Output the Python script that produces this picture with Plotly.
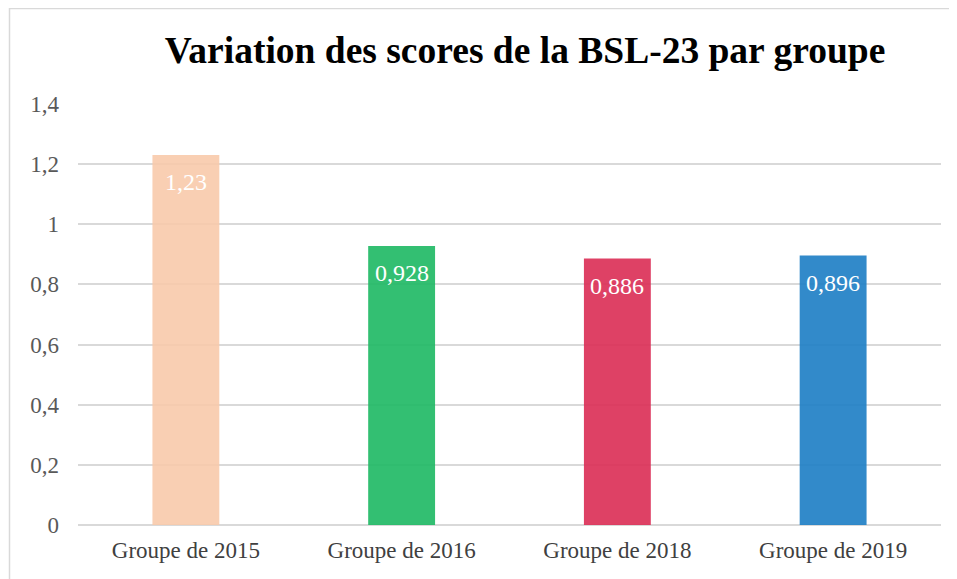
import plotly.graph_objects as go

categories = ["Groupe de 2015", "Groupe de 2016", "Groupe de 2018", "Groupe de 2019"]
values = [1.23, 0.928, 0.886, 0.896]
value_labels = ["1,23", "0,928", "0,886", "0,896"]
colors = ["rgba(248,200,168,0.88)", "rgba(34,186,102,0.92)", "rgba(218,44,84,0.9)", "rgba(33,128,198,0.92)"]

# page body adds an 8px offset; figure is sized to fill the rest of the window
OFF = 8
W, H = 957 - OFF, 579 - OFF
ml, mr, mt, mb = 70, 16, 96, 54
SERIF = "Liberation Serif, Times New Roman, serif"

fig = go.Figure()
fig.add_trace(go.Bar(
    x=categories, y=values, marker=dict(color=colors, line=dict(width=0)),
    width=0.31, hoverinfo="skip",
))

for c, v, t in zip(categories, values, value_labels):
    fig.add_annotation(x=c, y=v, text=t, showarrow=False, yanchor="top", yshift=-12,
                       font=dict(family=SERIF, size=24, color="white"))

plot_w = W - ml - mr
plot_h = H - mt - mb
fig.add_shape(type="rect", xref="paper", yref="paper",
              x0=(1.5 - ml) / plot_w, x1=(W + 20 - ml) / plot_w,
              y0=-(mb + 20) / plot_h, y1=(H - 0.5 - mb) / plot_h,
              line=dict(color="#D9D9D9", width=1.5), fillcolor="rgba(0,0,0,0)", layer="below")

fig.update_layout(
    width=W, height=H,
    margin=dict(l=ml, r=mr, t=mt, b=mb),
    paper_bgcolor="white", plot_bgcolor="white",
    separators=", ",
    showlegend=False,
    title=dict(text="<b>Variation des scores de la BSL-23 par groupe</b>",
               x=517 / W, xanchor="center", xref="container",
               y=1 - 42 / H, yanchor="middle", yref="container",
               font=dict(family=SERIF, size=37.5, color="black")),
    xaxis=dict(showgrid=False, showline=False, zeroline=False, ticks="",
               tickfont=dict(family=SERIF, size=23, color="#404040"),
               ticklabelstandoff=9),
    yaxis=dict(range=[0, 1.4], dtick=0.2, showgrid=True, gridcolor="#D9D9D9", gridwidth=1.5,
               zeroline=True, zerolinecolor="#D9D9D9", zerolinewidth=1.5, showline=False,
               tickfont=dict(family=SERIF, size=23, color="#595959"),
               ticklabelstandoff=18, layer="above traces"),
)

fig.write_html("out.html")
